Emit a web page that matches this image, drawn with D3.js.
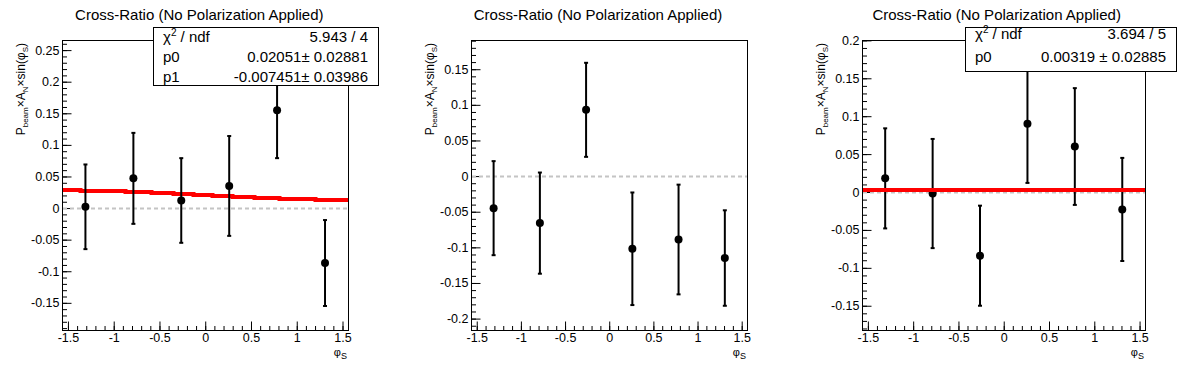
<!DOCTYPE html>
<html>
<head>
<meta charset="utf-8">
<script src="https://cdn.jsdelivr.net/npm/d3@7"></script>
<style>
  body { margin: 0; background: #fff; }
  svg { display: block; font-family: "Liberation Sans", Arial, Helvetica, sans-serif; }
</style>
</head>
<body>
<svg id="chart" width="1196" height="372"></svg>
<script>
// bin centres in phi_S (same for all three pads)
const phiBins = [-1.309, -0.785, -0.262, 0.262, 0.785, 1.309];

// pad 1 : fit p0 + p1*sin(phi)
const leftValues = [0.002, 0.047, 0.012, 0.035, 0.155, -0.087];
const leftErrors = [0.067, 0.072, 0.067, 0.079, 0.076, 0.068];
const leftStats = [["χ2 / ndf", "5.943 / 4"], ["p0", "0.02051± 0.02881"], ["p1", "-0.007451± 0.03986"]];
const leftFit = [0.02051, -0.007451];

// pad 2 : no fit
const midValues = [-0.045, -0.066, 0.093, -0.102, -0.089, -0.115];
const midErrors = [0.066, 0.071, 0.066, 0.079, 0.077, 0.067];

// pad 3 : constant fit p0
const rightValues = [0.018, -0.002, -0.084, 0.090, 0.060, -0.023];
const rightErrors = [0.066, 0.072, 0.066, 0.078, 0.077, 0.068];
const rightStats = [["χ2 / ndf", "3.694 / 5"], ["p0", "0.00319 ± 0.02885"]];
const rightFit = [0.00319, 0];

const xTicks = [-1.5, -1, -0.5, 0, 0.5, 1, 1.5];
const titleText = "Cross-Ratio (No Polarization Applied)";

const svg = d3.select("#chart");
const padW = 1196 / 3;

const pads = [
  { x0: 62, x1: 348, yDom: [-0.193, 0.266], yMajor: [-0.15, -0.1, -0.05, 0, 0.05, 0.1, 0.15, 0.2, 0.25],
    values: leftValues, errors: leftErrors, stats: leftStats, fit: leftFit,
    box: { x: 153, y: 27, w: 225, h: 58, rows: [15, 35, 54.5] }, fitOnTop: false },
  { x0: 471, x1: 747, yDom: [-0.216, 0.191], yMajor: [-0.2, -0.15, -0.1, -0.05, 0, 0.05, 0.1, 0.15],
    values: midValues, errors: midErrors, stats: null, fit: null },
  { x0: 862, x1: 1145, yDom: [-0.182, 0.2005], yMajor: [-0.15, -0.1, -0.05, 0, 0.05, 0.1, 0.15, 0.2],
    values: rightValues, errors: rightErrors, stats: rightStats, fit: rightFit,
    box: { x: 965, y: 27, w: 211, h: 44, rows: [12, 34.5] }, fitOnTop: true }
];

const frameTop = 40, frameBottom = 330;
const fmt = d => String(+d.toFixed(3));

pads.forEach((p, i) => {
  const g = svg.append("g");
  const x = d3.scaleLinear().domain([-1.565, 1.56]).range([p.x0, p.x1]);
  const y = d3.scaleLinear().domain(p.yDom).range([frameBottom, frameTop]);

  // title
  g.append("text")
    .attr("x", padW * i + padW / 2)
    .attr("y", 20)
    .attr("text-anchor", "middle")
    .attr("font-size", 15)
    .attr("fill", "#000")
    .text(titleText);

  // frame
  g.append("rect")
    .attr("x", p.x0 + 0.5).attr("y", frameTop + 0.5)
    .attr("width", p.x1 - p.x0).attr("height", frameBottom - frameTop)
    .attr("fill", "none").attr("stroke", "#000").attr("stroke-width", 1);

  // minor ticks
  const yMinor = d3.range(Math.ceil(p.yDom[0] * 100), Math.floor(p.yDom[1] * 100) + 1).map(v => v / 100);
  const xMinor = d3.range(-15, 16).map(v => v / 10);

  g.append("g")
    .attr("transform", `translate(${p.x0 + 0.5},0)`)
    .call(d3.axisLeft(y).tickValues(yMinor).tickSize(-4.5).tickFormat(""))
    .call(a => a.select(".domain").remove());

  g.append("g")
    .attr("transform", `translate(0,${frameBottom + 0.5})`)
    .call(d3.axisBottom(x).tickValues(xMinor).tickSize(-4.5).tickFormat(""))
    .call(a => a.select(".domain").remove());

  // major ticks + labels
  const yAxis = g.append("g")
    .attr("transform", `translate(${p.x0 + 0.5},0)`)
    .call(d3.axisLeft(y).tickValues(p.yMajor).tickSize(-9).tickPadding(3).tickFormat(fmt));
  yAxis.select(".domain").remove();
  yAxis.selectAll("text").attr("font-size", 12.5).attr("font-family", null).attr("fill", "#000");

  const xAxis = g.append("g")
    .attr("transform", `translate(0,${frameBottom + 0.5})`)
    .call(d3.axisBottom(x).tickValues(xTicks).tickSize(-9).tickPadding(3).tickFormat(fmt));
  xAxis.select(".domain").remove();
  xAxis.selectAll("text").attr("font-size", 12.5).attr("font-family", null).attr("fill", "#000");

  // axis titles
  const xt = g.append("text")
    .attr("x", p.x1 - 1).attr("y", 356)
    .attr("text-anchor", "end").attr("font-size", 11).attr("fill", "#000");
  xt.append("tspan").text("φ");
  xt.append("tspan").attr("font-size", 9).attr("dy", 3).text("S");

  const yt = g.append("text")
    .attr("transform", `translate(${p.x0 - 37},${frameTop + 3}) rotate(-90)`)
    .attr("text-anchor", "end").attr("font-size", 12).attr("fill", "#000");
  yt.append("tspan").text("P");
  yt.append("tspan").attr("font-size", 8).attr("dy", 3).text("beam");
  yt.append("tspan").attr("dy", -3).text("×A");
  yt.append("tspan").attr("font-size", 8).attr("dy", 3).text("N");
  yt.append("tspan").attr("dy", -3).text("×sin(φ");
  yt.append("tspan").attr("font-size", 8).attr("dy", 3).text("S");
  yt.append("tspan").attr("dy", -3).text(")");

  // zero line
  g.append("line")
    .attr("x1", p.x0 + 1).attr("x2", p.x1)
    .attr("y1", Math.round(y(0)) + 0.5).attr("y2", Math.round(y(0)) + 0.5)
    .attr("stroke", "#c4c4c4").attr("stroke-width", 2).attr("stroke-dasharray", "4,3");

  // fit curve, drawn in 1px steps like the ROOT canvas
  const drawFit = () => {
    if (!p.fit) return;
    const xs = d3.range(p.x0 + 1, p.x1 + 1, 1);
    const pts = xs.map(px => {
      const phi = x.invert(px);
      return [px, Math.round(y(p.fit[0] + p.fit[1] * Math.sin(phi)))];
    });
    g.append("path")
      .attr("d", d3.line().curve(d3.curveStep)(pts))
      .attr("fill", "none").attr("stroke", "#ff0000").attr("stroke-width", 4);
  };

  if (!p.fitOnTop) drawFit();

  // points with error bars
  const pts = g.append("g");
  phiBins.forEach((phi, k) => {
    const cx = x(phi), v = p.values[k], e = p.errors[k];
    pts.append("line")
      .attr("x1", cx).attr("x2", cx).attr("y1", y(v + e)).attr("y2", y(v - e))
      .attr("stroke", "#000").attr("stroke-width", 2);
    [v + e, v - e].forEach(ev => {
      pts.append("line")
        .attr("x1", cx - 2).attr("x2", cx + 2).attr("y1", y(ev)).attr("y2", y(ev))
        .attr("stroke", "#000").attr("stroke-width", 2);
    });
    pts.append("circle").attr("cx", cx).attr("cy", y(v)).attr("r", 4).attr("fill", "#000");
  });

  if (p.fitOnTop) drawFit();

  // stats box
  if (p.stats) {
    const b = p.box;
    g.append("rect")
      .attr("x", b.x + 0.5).attr("y", b.y + 0.5).attr("width", b.w).attr("height", b.h)
      .attr("fill", "#fff").attr("stroke", "#000").attr("stroke-width", 1);
    p.stats.forEach((row, r) => {
      const lbl = g.append("text")
        .attr("x", b.x + 10).attr("y", b.y + b.rows[r])
        .attr("font-size", 15).attr("fill", "#000");
      if (row[0].startsWith("χ2")) {
        lbl.append("tspan").text("χ");
        lbl.append("tspan").attr("font-size", 10).attr("dy", -6).text("2");
        lbl.append("tspan").attr("dy", 6).text(" / ndf");
      } else {
        lbl.text(row[0]);
      }
      g.append("text")
        .attr("x", b.x + b.w - 10).attr("y", b.y + b.rows[r])
        .attr("text-anchor", "end").attr("font-size", 15).attr("fill", "#000")
        .text(row[1]);
    });
  }
});
</script>
</body>
</html>
